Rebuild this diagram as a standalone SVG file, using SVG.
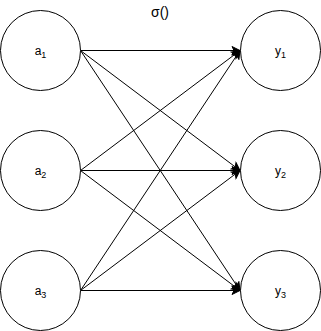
<svg xmlns="http://www.w3.org/2000/svg" width="321" height="331" viewBox="0 0 321 331">
<style>
.node circle{fill:#fff;stroke:#000;stroke-width:1}
.lbl{font-family:"Liberation Sans",Arial,sans-serif;font-size:12px;fill:#000;text-anchor:middle}
.sub{font-size:9px}
.title{font-size:14px}
#connectors line{stroke:#000;stroke-width:1;marker-end:url(#arr)}
</style>
<defs>
<marker id="arr" markerUnits="userSpaceOnUse" viewBox="-9 -5 10 10" refX="0" refY="0" markerWidth="10" markerHeight="10" orient="auto">
<path d="M0,0 L-8,-4 L-6,0 L-8,4 Z" fill="#000" stroke="#000" stroke-width="1"/>
</marker>
</defs>
<rect width="321" height="331" fill="#fff"/>
<g id="connectors">
<line x1="80.5" y1="50.5" x2="240" y2="50.5"/>
<line x1="80.5" y1="50.5" x2="240" y2="170.5"/>
<line x1="80.5" y1="50.5" x2="240" y2="290.5"/>
<line x1="80.5" y1="170.5" x2="240" y2="50.5"/>
<line x1="80.5" y1="170.5" x2="240" y2="170.5"/>
<line x1="80.5" y1="170.5" x2="240" y2="290.5"/>
<line x1="80.5" y1="290.5" x2="240" y2="50.5"/>
<line x1="80.5" y1="290.5" x2="240" y2="170.5"/>
<line x1="80.5" y1="290.5" x2="240" y2="290.5"/>
</g>
<g id="a1" class="node"><circle cx="40.5" cy="50.5" r="40"/><text class="lbl" x="40.5" y="55">a<tspan class="sub" dy="3">1</tspan></text></g>
<g id="a2" class="node"><circle cx="40.5" cy="170.5" r="40"/><text class="lbl" x="40.5" y="175">a<tspan class="sub" dy="3">2</tspan></text></g>
<g id="a3" class="node"><circle cx="40.5" cy="290.5" r="40"/><text class="lbl" x="40.5" y="295">a<tspan class="sub" dy="3">3</tspan></text></g>
<g id="y1" class="node"><circle cx="280.5" cy="50.5" r="40"/><text class="lbl" x="280.5" y="55">y<tspan class="sub" dy="3">1</tspan></text></g>
<g id="y2" class="node"><circle cx="280.5" cy="170.5" r="40"/><text class="lbl" x="280.5" y="175">y<tspan class="sub" dy="3">2</tspan></text></g>
<g id="y3" class="node"><circle cx="280.5" cy="290.5" r="40"/><text class="lbl" x="280.5" y="295">y<tspan class="sub" dy="3">3</tspan></text></g>
<text id="sigma" class="lbl title" x="160" y="17">σ()</text>
</svg>
